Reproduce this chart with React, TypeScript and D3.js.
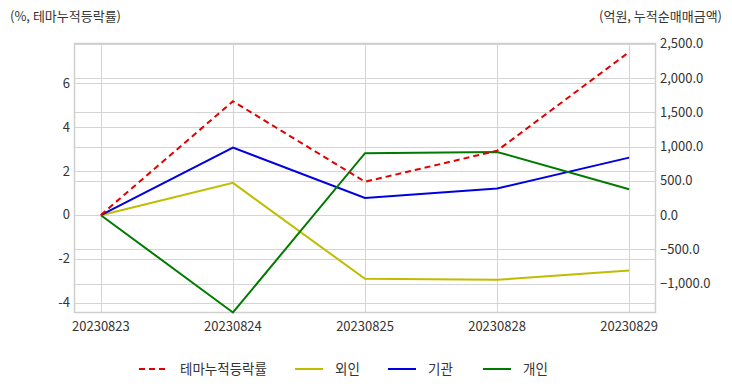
import React, { useEffect, useRef } from 'react';
import * as d3 from 'd3';

const dates = ['20230823', '20230824', '20230825', '20230828', '20230829'];
const themeRate = [0, 5.17, 1.51, 2.92, 7.41];
const foreign = [0, 471, -929, -943, -808];
const institution = [0, 985, 252, 388, 840];
const individual = [0, -1420, 904, 923, 379];
const leftTicks = [-4, -2, 0, 2, 4, 6];
const rightTicks = [-1000, -500, 0, 500, 1000, 1500, 2000, 2500];

const W = 732;
const H = 392;
const FONT = '"Noto Sans CJK KR", "Noto Sans", sans-serif';

const App: React.FC = () => {
  const svgRef = useRef<SVGSVGElement>(null);

  useEffect(() => {
    if (!svgRef.current) return;
    const svg = d3.select(svgRef.current);
    svg.selectAll('*').remove();

    const left = 74.5, right = 655.5, top = 43.5, bottom = 312.5;

    const x = d3.scalePoint<string>().domain(dates).range([left, right]).padding(0.2);
    const yL = d3.scaleLinear().domain([-4.44, 7.8]).range([bottom, top]);
    const yR = d3.scaleLinear().domain([-1420, 2505]).range([bottom, top]);

    // gridlines
    const grid = svg.append('g').attr('stroke', '#d4d4d4').attr('stroke-width', 1);
    leftTicks.forEach(t => {
      const yy = Math.round(yL(t)) + 0.5;
      grid.append('line').attr('x1', left).attr('x2', right).attr('y1', yy).attr('y2', yy);
    });
    rightTicks.forEach(t => {
      const yy = Math.round(yR(t)) + 0.5;
      grid.append('line').attr('x1', left).attr('x2', right).attr('y1', yy).attr('y2', yy);
    });
    dates.forEach(d => {
      const xx = Math.round(x(d)!) + 0.5;
      grid.append('line').attr('x1', xx).attr('x2', xx).attr('y1', top).attr('y2', bottom);
    });

    // border
    svg.append('rect')
      .attr('x', left).attr('y', top)
      .attr('width', right - left).attr('height', bottom - top)
      .attr('fill', 'none').attr('stroke', '#cfcfcf').attr('stroke-width', 1.5);

    const txt = svg.append('g').attr('font-family', FONT).attr('font-size', 13).attr('fill', '#333');

    leftTicks.forEach(t => {
      txt.append('text').attr('x', 70).attr('y', yL(t)).attr('dy', '0.35em')
        .attr('text-anchor', 'end').text(String(t));
    });
    const fmt = d3.format(',.1f');
    rightTicks.forEach(t => {
      txt.append('text').attr('x', 660).attr('y', yR(t)).attr('dy', '0.35em')
        .attr('text-anchor', 'start').text(fmt(t));
    });
    dates.forEach(d => {
      txt.append('text').attr('x', x(d)!).attr('y', 326)
        .attr('dy', '0.35em').attr('text-anchor', 'middle').text(d);
    });

    txt.append('text').attr('x', 10).attr('y', 16).attr('dy', '0.35em').text('(%, 테마누적등락률)');
    txt.append('text').attr('x', 722).attr('y', 16).attr('dy', '0.35em')
      .attr('text-anchor', 'end').text('(억원, 누적순매매금액)');

    const series = [
      { name: '외인', values: foreign, color: '#c0bc00', scale: yR, dash: null },
      { name: '기관', values: institution, color: '#0000e0', scale: yR, dash: null },
      { name: '개인', values: individual, color: '#007a00', scale: yR, dash: null },
      { name: '테마누적등락률', values: themeRate, color: '#e00000', scale: yL, dash: '6,4' },
    ];

    series.forEach(s => {
      const line = d3.line<number>()
        .x((_, i) => x(dates[i])!)
        .y(v => s.scale(v));
      svg.append('path')
        .attr('d', line(s.values)!)
        .attr('fill', 'none')
        .attr('stroke', s.color)
        .attr('stroke-width', 2)
        .attr('stroke-dasharray', s.dash);
    });

    // legend
    const legend = [
      { name: '테마누적등락률', color: '#e00000', dash: '6,4', lx: 139, tx: 180 },
      { name: '외인', color: '#c0bc00', dash: null, lx: 295, tx: 335 },
      { name: '기관', color: '#0000e0', dash: null, lx: 388, tx: 428 },
      { name: '개인', color: '#007a00', dash: null, lx: 483, tx: 523 },
    ];
    const ly = 369;
    legend.forEach(l => {
      svg.append('line').attr('x1', l.lx).attr('x2', l.lx + 28).attr('y1', ly).attr('y2', ly)
        .attr('stroke', l.color).attr('stroke-width', 2).attr('stroke-dasharray', l.dash);
      txt.append('text').attr('x', l.tx).attr('y', ly).attr('dy', '0.35em')
        .attr('font-size', 13.5).text(l.name);
    });
  }, []);

  return <svg ref={svgRef} width={W} height={H} style={{ position: 'absolute', left: 0, top: 0 }} />;
};

export default App;
